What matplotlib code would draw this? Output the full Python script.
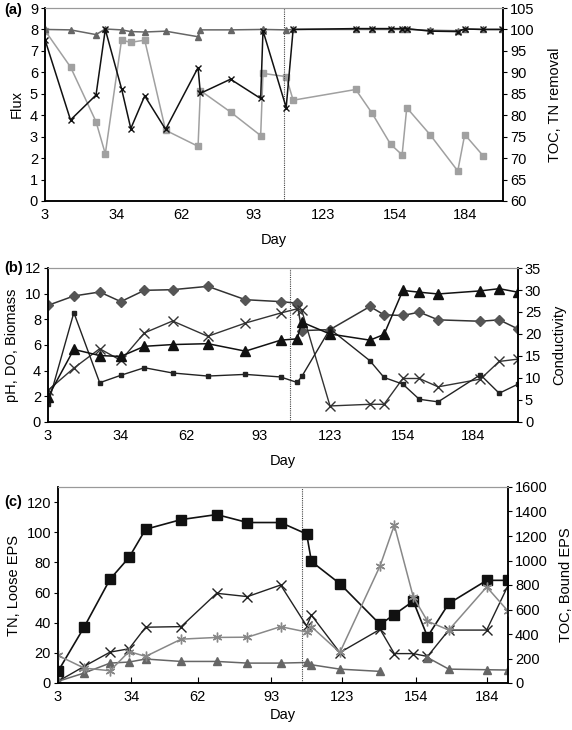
import matplotlib
matplotlib.use('Agg')
import matplotlib.pyplot as plt
import numpy as np

plt.rcParams['font.family'] = ['Liberation Sans', 'DejaVu Sans']
plt.rcParams['font.size'] = 10.5

xticks = [3, 34, 62, 93, 123, 154, 184]
change_day = 106

# (a) flux and removal
flux_days = [3, 14, 25, 29, 36, 40, 46, 55, 69, 70, 83, 96, 97, 107, 110,
             137, 144, 152, 157, 159, 169, 181, 184, 192]
flux = [7.95, 6.25, 3.7, 2.2, 7.5, 7.4, 7.5, 3.3, 2.55, 5.15, 4.15, 3.05, 5.95, 5.8, 4.7,
        5.2, 4.1, 2.65, 2.15, 4.35, 3.1, 1.4, 3.1, 2.1]
tn_days = [3, 14, 25, 29, 36, 40, 46, 55, 69, 70, 83, 96, 97, 107, 110,
           137, 144, 152, 157, 159, 169, 181, 184, 192, 200]
tn_rem = [97.6, 78.9, 84.7, 100, 86.2, 76.9, 84.5, 76.7, 91.1, 85.1, 88.4, 83.9, 99.7, 81.8, 100,
          100.2, 100.2, 100.2, 100.2, 100.2, 99.6, 99.5, 100.1, 100, 100]
toc_days = [3, 14, 25, 29, 36, 40, 46, 55, 69, 70, 83, 97, 107, 110,
            137, 144, 152, 157, 159, 169, 181, 184, 192, 200]
toc_rem = [100, 99.9, 98.8, 100.1, 99.9, 99.5, 99.4, 99.6, 98.3, 99.9, 99.9, 100, 99.9, 100,
           100, 100, 100, 100, 100, 99.8, 99.7, 100.1, 100, 100]

# (b) pH, DO, biomass, conductivity
days_b = [3, 14, 25, 34, 44, 56, 71, 87, 102, 109, 111, 123, 140, 146, 154, 161, 169, 187, 195, 203]
ph = [9.09, 9.82, 10.13, 9.38, 10.26, 10.31, 10.57, 9.53, 9.38, 9.26, 7.12, 7.2,
      9.0, 8.35, 8.3, 8.56, 7.96, 7.85, 7.96, 7.25]
cond = [5.7, 16.5, 15.1, 14.9, 17.2, 17.6, 17.8, 16.1, 18.6, 18.9, 22.7, 20.0,
        18.6, 19.9, 29.9, 29.5, 29.1, 29.8, 30.3, 29.5]
biomass = [2.47, 4.2, 5.71, 4.8, 6.94, 7.87, 6.68, 7.71, 8.49, 8.82, 8.69, 1.25,
           1.38, 1.38, 3.39, 3.39, 2.74, 3.34, 4.72, 4.9]
do = [1.38, 8.52, 3.06, 3.64, 4.23, 3.82, 3.58, 3.71, 3.51, 3.08, 3.55, 7.25,
      4.77, 3.47, 2.95, 1.77, 1.57, 3.68, 2.24, 2.95]

# (c) TN, TOC, EPS
days_c = [3, 14, 25, 33, 40, 55, 70, 83, 97, 108, 110, 122, 139, 145, 153, 159, 168, 184, 193]
bound_eps = [95, 455, 848, 1025, 1255, 1334, 1375, 1310, 1310, 1216, 992, 811,
             478, 559, 668, 378, 649, 838, 838]
toc_c = [225, 122, 100, 257, 217, 358, 372, 374, 460, 416, 460, 249,
         957, 1289, 703, 505, 432, 784, 587]
loose_eps = [1.1, 11, 20.5, 22.7, 37, 37.4, 59.5, 57.3, 65, 37.8, 45, 20.2,
             35.6, 19.5, 19.5, 17.6, 35.1, 35.1, 64.6]
tn_c = [1.1, 6.6, 13.2, 13.9, 15.9, 14.3, 14.3, 13.2, 13.2, 13.6, 12.1, 9.2,
        7.7, np.nan, np.nan, 16.9, 9.2, 8.8, 8.6]

W, H = 572, 730
fig = plt.figure(figsize=(W / 100, H / 100), dpi=100)


def make_axes(l, r, t, b):
    return fig.add_axes([l / W, 1 - b / H, (r - l) / W, (b - t) / H])


def style(ax, ax2, xmax, xtick_len, xpad):
    ax.set_xlim(3, xmax)
    ax.set_xticks(xticks)
    ax.set_xlabel('Day', labelpad=xpad)
    ax.tick_params(axis='x', direction='in', length=xtick_len, pad=5)
    ax.tick_params(axis='y', length=3, pad=2)
    ax2.tick_params(axis='y', length=3, pad=2)
    for a in (ax, ax2):
        a.spines['top'].set_color('#999999')
        a.spines['top'].set_linewidth(0.8)
        for s in ('left', 'bottom', 'right'):
            a.spines[s].set_linewidth(1.1)
    ax.axvline(change_day, color='#444444', ls=(0, (1, 1)), lw=0.8)


# ---- panel (a)
ax = make_axes(45, 503, 8, 201)
ax2 = ax.twinx()
ax.plot(flux_days, flux, color='#a0a0a0', marker='s', ms=4.5, lw=1.1)
ax2.plot(toc_days, toc_rem, color='#666666', marker='^', ms=4.5, lw=1.1)
ax2.plot(tn_days, tn_rem, color='#111111', marker='x', ms=4.5, mew=1, lw=1.1)
ax.set_ylim(0, 9)
ax.set_yticks(range(0, 10))
ax2.set_ylim(60, 105)
ax2.set_yticks(range(60, 106, 5))
ax.set_ylabel('Flux', labelpad=4)
ax2.set_ylabel('TOC, TN removal', labelpad=10)
style(ax, ax2, 200.5, 0, 8)
fig.text(4 / W, 1 - 10 / H, '(a)', fontweight='bold', va='center')

# ---- panel (b)
ax = make_axes(48, 518, 268, 422)
ax2 = ax.twinx()
ax.plot(days_b, ph, color='#333333', marker='D', ms=5.5, mfc='#555555', mec='#555555', lw=1.1)
ax2.plot(days_b, cond, color='#111111', marker='^', ms=7, lw=1.1)
ax.plot(days_b, biomass, color='#333333', marker='x', ms=7, mew=1, lw=1.0)
ax.plot(days_b, do, color='#222222', marker='s', ms=2.8, lw=1.0)
ax.set_ylim(0, 12)
ax.set_yticks(range(0, 13, 2))
ax2.set_ylim(0, 35)
ax2.set_yticks(range(0, 36, 5))
ax.set_ylabel('pH, DO, Biomass', labelpad=4)
ax2.set_ylabel('Conductivity', labelpad=8)
style(ax, ax2, 203, 0, 8)
fig.text(4 / W, 1 - 268 / H, '(b)', fontweight='bold', va='center')

# ---- panel (c)
ax = make_axes(58, 508, 487, 683)
ax2 = ax.twinx()
ax2.plot(days_c, bound_eps, color='#111111', marker='s', ms=6.5, lw=1.2)
ax.plot(days_c, loose_eps, color='#222222', marker='x', ms=7, mew=1, lw=1.0)
ax2.plot(days_c, toc_c, color='#888888', marker=(6, 2, 0), ms=7, mew=1, lw=1.1)
ax.plot(days_c, tn_c, color='#666666', marker='^', ms=6, lw=1.1)
ax.set_ylim(0, 130)
ax.set_yticks(range(0, 121, 20))
ax2.set_ylim(0, 1600)
ax2.set_yticks(range(0, 1601, 200))
ax.set_ylabel('TN, Loose EPS', labelpad=4)
ax2.set_ylabel('TOC, Bound EPS', labelpad=8)
style(ax, ax2, 193, 4, 3)
fig.text(4 / W, 1 - 502 / H, '(c)', fontweight='bold', va='center')

fig.savefig('out.png', dpi=100)
